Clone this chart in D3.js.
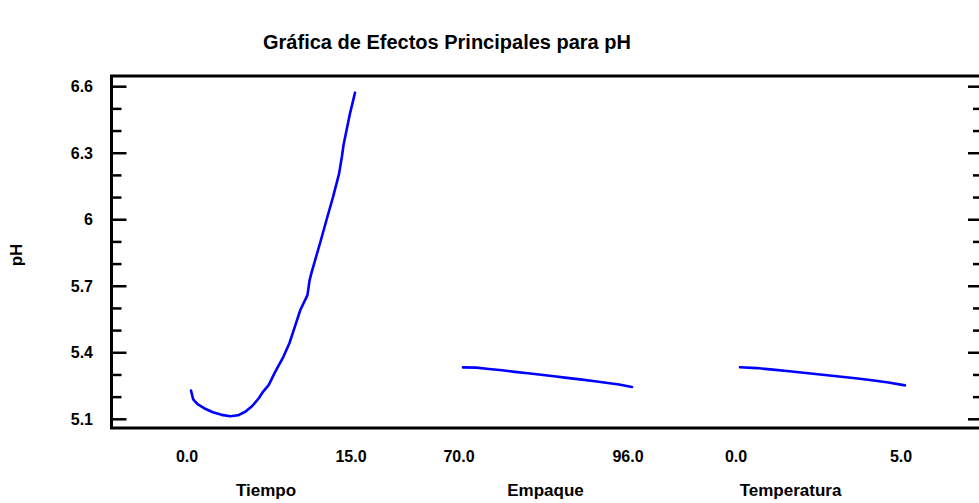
<!DOCTYPE html>
<html>
<head>
<meta charset="utf-8">
<script src="https://cdn.jsdelivr.net/npm/d3@7"></script>
<style>
  html, body { margin: 0; padding: 0; background: #fff; }
  svg { display: block; }
  text { font-family: "Liberation Sans", Arial, sans-serif; font-weight: bold; fill: #000; }
</style>
</head>
<body>
<script>
// ---- Data ----
const chartTitle = "Gráfica de Efectos Principales para pH";
const yAxisTitle = "pH";
const factors = ["Tiempo", "Empaque", "Temperatura"];
const factorLow = [0, 70, 0];
const factorHigh = [15, 96, 5];
const factorTickLabels = [["0.0", "15.0"], ["70.0", "96.0"], ["0.0", "5.0"]];

const tiempoX = [0, 0.2, 0.6, 1.2, 2.0, 2.8, 3.6, 4.3, 5.0, 5.6, 6.2, 6.6, 7.1, 7.7, 8.45, 9.0, 9.45, 10.0, 10.65, 10.85, 11.05, 11.8, 12.4, 13.0, 13.55, 13.8, 13.95, 14.55, 15.0];
const tiempoPH = [5.230, 5.190, 5.168, 5.150, 5.132, 5.120, 5.114, 5.118, 5.135, 5.160, 5.195, 5.225, 5.254, 5.314, 5.382, 5.443, 5.510, 5.593, 5.660, 5.728, 5.766, 5.894, 6.000, 6.104, 6.209, 6.284, 6.337, 6.481, 6.573];

const empaqueX = [70, 72, 74, 76, 78, 80, 82, 84, 86, 88, 90, 92, 94, 96];
const empaquePH = [5.334, 5.333, 5.327, 5.321, 5.314, 5.308, 5.301, 5.294, 5.287, 5.280, 5.273, 5.265, 5.257, 5.246];

const temperaturaX = [0, 0.5, 1.0, 1.5, 2.0, 2.5, 3.0, 3.5, 4.0, 4.5, 5.0];
const temperaturaPH = [5.335, 5.331, 5.324, 5.317, 5.309, 5.301, 5.293, 5.285, 5.276, 5.266, 5.253];

const yMajorTicks = [6.6, 6.3, 6.0, 5.7, 5.4, 5.1];
const yMajorLabels = ["6.6", "6.3", "6", "5.7", "5.4", "5.1"];
const yMinorTicks = [6.5, 6.4, 6.2, 6.1, 5.9, 5.8, 5.6, 5.5, 5.3, 5.2];

// ---- Layout ----
const W = 979, H = 503;
const frame = { left: 111.5, top: 76, right: 983, bottom: 428 };
const panelRanges = [[191, 355], [463, 632], [740, 905]];
const titleOffsets = [-7, -2, -32];
const tickSize = "16px", labelSize = "17px", titleSize = "20px";

const svg = d3.select("body").append("svg").attr("width", W).attr("height", H);

const y = d3.scaleLinear().domain([5.1, 6.6]).range([419.3, 86.7]);

svg.append("text").attr("x", 447).attr("y", 49).attr("text-anchor", "middle")
  .style("font-size", titleSize).text(chartTitle);

svg.append("text").attr("transform", `translate(22,255) rotate(-90)`)
  .attr("text-anchor", "middle").style("font-size", labelSize).text(yAxisTitle);

svg.append("rect").attr("x", frame.left).attr("y", frame.top)
  .attr("width", frame.right - frame.left).attr("height", frame.bottom - frame.top)
  .attr("fill", "none").attr("stroke", "#000").attr("stroke-width", 3);

const tickG = svg.append("g").attr("stroke", "#000").attr("stroke-width", 2.5);
yMajorTicks.forEach(v => {
  tickG.append("line").attr("x1", frame.left).attr("x2", frame.left + 15).attr("y1", y(v)).attr("y2", y(v));
  tickG.append("line").attr("x1", frame.right).attr("x2", frame.right - 15).attr("y1", y(v)).attr("y2", y(v));
});
yMinorTicks.forEach(v => {
  tickG.append("line").attr("x1", frame.left).attr("x2", frame.left + 10).attr("y1", y(v)).attr("y2", y(v));
  tickG.append("line").attr("x1", frame.right).attr("x2", frame.right - 10).attr("y1", y(v)).attr("y2", y(v));
});
yMajorTicks.forEach((v, i) => {
  svg.append("text").attr("x", 93).attr("y", y(v)).attr("dy", "0.35em")
    .attr("text-anchor", "end").style("font-size", tickSize).text(yMajorLabels[i]);
});

const series = [[tiempoX, tiempoPH], [empaqueX, empaquePH], [temperaturaX, temperaturaPH]];
factors.forEach((name, i) => {
  const x = d3.scaleLinear().domain([factorLow[i], factorHigh[i]]).range(panelRanges[i]);
  const [xs, ys] = series[i];
  const pts = xs.map((d, j) => [d, ys[j]]);
  svg.append("path").datum(pts)
    .attr("fill", "none").attr("stroke", "#0000ff").attr("stroke-width", 2.6)
    .attr("stroke-linejoin", "round").attr("stroke-linecap", "round")
    .attr("d", d3.line().x(d => x(d[0])).y(d => y(d[1])));
  [factorLow[i], factorHigh[i]].forEach((v, k) => {
    svg.append("text").attr("x", x(v) - 4).attr("y", 462).attr("text-anchor", "middle")
      .style("font-size", tickSize).text(factorTickLabels[i][k]);
  });
  const mid = (x(factorLow[i]) + x(factorHigh[i])) / 2 + titleOffsets[i];
  svg.append("text").attr("x", mid).attr("y", 496).attr("text-anchor", "middle")
    .style("font-size", labelSize).text(name);
});
</script>
</body>
</html>
